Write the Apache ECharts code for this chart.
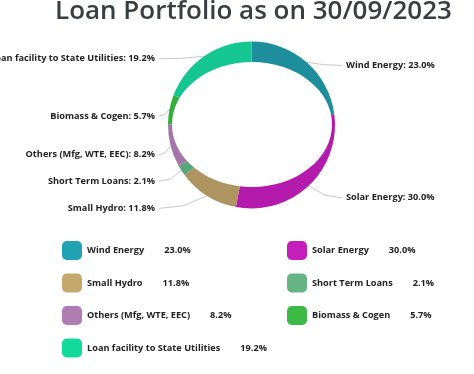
<!DOCTYPE html>
<html><head><meta charset="utf-8">
<script src="https://cdn.jsdelivr.net/npm/echarts@6/dist/echarts.min.js"></script>
<style>html,body{margin:0;padding:0;background:#fff}#c{width:474px;height:374px}</style>
</head><body><div id="c"></div>
<script>
const categories = ['Wind Energy','Solar Energy','Small Hydro','Short Term Loans','Others (Mfg, WTE, EEC)','Biomass & Cogen','Loan facility to State Utilities'];
const shares = [23.0, 30.0, 11.8, 2.1, 8.2, 5.7, 19.2];
const ringColors = ['#1e8e9c','#b41aab','#ad9460','#5aa57a','#a574a9','#34ad3d','#16c690'];
const swatchColors = ['#20a2b2','#c41fb8','#c4a96c','#66b385','#b07db3','#3bbb45','#13d99b'];
const leftLegend = ['Wind Energy','Small Hydro','Others (Mfg, WTE, EEC)','Loan facility to State Utilities'];
const rightLegend = ['Solar Energy','Short Term Loans','Biomass & Cogen'];
const titleText = 'Loan Portfolio as on 30/09/2023';

const CX = 251.5, CY = 125, R = 83.5;
const FONT = '"Open Sans", "DejaVu Sans", sans-serif';
const FS = 9.2;

const chart = echarts.init(document.getElementById('c'), null, {renderer: 'canvas'});
const pct = n => shares[categories.indexOf(n)].toFixed(1) + '%';

function legendFor(names, left) {
  return {
    orient: 'vertical', left: left, top: 241, padding: 0,
    itemWidth: 20, itemHeight: 19, itemGap: 13.5, icon: 'roundRect',
    selectedMode: false,
    data: names.map(n => ({name: n, itemStyle: {color: swatchColors[categories.indexOf(n)]}})),
    formatter: n => '{n|' + n + '}{v|' + pct(n) + '}',
    textStyle: {
      fontFamily: FONT, fontWeight: 'bold', fontSize: FS, color: '#222',
      rich: {
        n: {fontFamily: FONT, fontWeight: 'bold', fontSize: FS, color: '#222'},
        v: {fontFamily: FONT, fontWeight: 'bold', fontSize: FS, color: '#222', padding: [0, 0, 0, 20]}
      }
    }
  };
}

chart.setOption({
  animation: false,
  title: {
    text: titleText, left: 50, top: -6, padding: 5,
    textStyle: {fontFamily: FONT, fontWeight: 600, fontSize: 26, color: '#3a3d42'}
  },
  legend: [legendFor(leftLegend, 62), legendFor(rightLegend, 287)],
  graphic: [{
    type: 'circle', x: 252, y: 124.5, scaleY: 0.78, z: 100,
    shape: {cx: 0, cy: 0, r: 80}, style: {fill: '#fff'}
  }],
  series: [{
    type: 'pie', center: [CX, CY], radius: [0, R], startAngle: 90, clockwise: true,
    data: categories.map((c, i) => ({name: c, value: shares[i], itemStyle: {color: ringColors[i]}})),
    label: {
      show: true, fontFamily: FONT, fontWeight: 'bold', fontSize: FS, color: '#222',
      formatter: p => p.name + ': ' + p.value.toFixed(1) + '%'
    },
    labelLine: {show: true, length: 6, length2: 6, lineStyle: {color: '#c8c8c8', width: 1}},
    emphasis: {disabled: true},
    labelLayout: function (p) {
      const isLeft = p.labelRect.x + p.labelRect.width / 2 < CX;
      const y = p.labelRect.y + p.labelRect.height / 2 + 7.5;
      const x = isLeft ? CX - 96.5 : CX + 94.5;
      const pts = p.labelLinePoints;
      const endX = isLeft ? x + 4 : x - 4;
      return {
        x: x, y: y, align: isLeft ? 'right' : 'left', verticalAlign: 'middle',
        labelLinePoints: [pts[0], [(pts[0][0] + endX) / 2, (pts[0][1] + y) / 2 + (y - pts[0][1]) / 2 * 0.6], [endX, y]]
      };
    }
  }]
});
</script></body></html>
